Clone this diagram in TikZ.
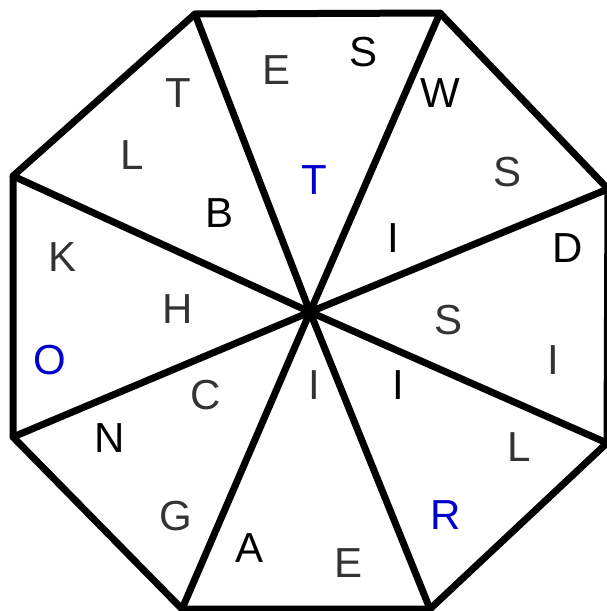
\documentclass[tikz,border=0pt]{standalone}
\usepackage{fontspec}
\setmainfont{Liberation Sans}
\definecolor{lettergray}{HTML}{333333}
\definecolor{letterblue}{HTML}{0000CC}
\begin{document}
\begin{tikzpicture}[x=1pt,y=-1pt,
  edge/.style={line width=7pt,line join=round,line cap=round},
  let/.style={font=\fontsize{42}{42}\selectfont,inner sep=0pt,anchor=center},
  g/.style={let,text=lettergray},
  k/.style={let,text=black},
  b/.style={let,text=letterblue}]
\useasboundingbox (0,0) rectangle (607,611);
\coordinate (v1) at (195,14);
\coordinate (v2) at (440,13);
\coordinate (v3) at (608,189);
\coordinate (v4) at (607,443);
\coordinate (v5) at (430,609);
\coordinate (v6) at (182,609);
\coordinate (v7) at (13,176);
\coordinate (v8) at (13,437);
\coordinate (c) at (310,312);
\draw[edge] (v1) -- (v2) -- (v3) -- (v4) -- (v5) -- (v6) -- (v8) -- (v7) -- cycle;
\foreach \v in {v1,v2,v3,v4,v5,v6,v7,v8} \draw[edge] (c) -- (\v);
\node[g] (t1) at (178,93) {T};
\node[g] (e1) at (277,70) {E};
\node[k] (s1) at (364,52) {S};
\node[k] (w1) at (440,93) {W};
\node[g] (s2) at (508,172) {S};
\node[g] (l1) at (132,155) {L};
\node[k] (b1) at (220,213) {B};
\node[b] (t2) at (314,180) {T};
\node[k] (i1) at (393,238) {I};
\node[k] (d1) at (568,248) {D};
\node[g] (k1) at (63,257) {K};
\node[g] (h1) at (178,309) {H};
\node[g] (s3) at (449,320) {S};
\node[g] (i2) at (553,360) {I};
\node[b] (o1) at (50,360) {O};
\node[g] (c1) at (206,395) {C};
\node[g] (i3) at (314,385) {I};
\node[k] (i4) at (398,385) {I};
\node[k] (n1) at (110,438) {N};
\node[g] (l2) at (519,447) {L};
\node[g] (g1) at (176,516) {G};
\node[b] (r1) at (446,515) {R};
\node[k] (a1) at (250,548) {A};
\node[g] (e2) at (349,563) {E};
\end{tikzpicture}
\end{document}
